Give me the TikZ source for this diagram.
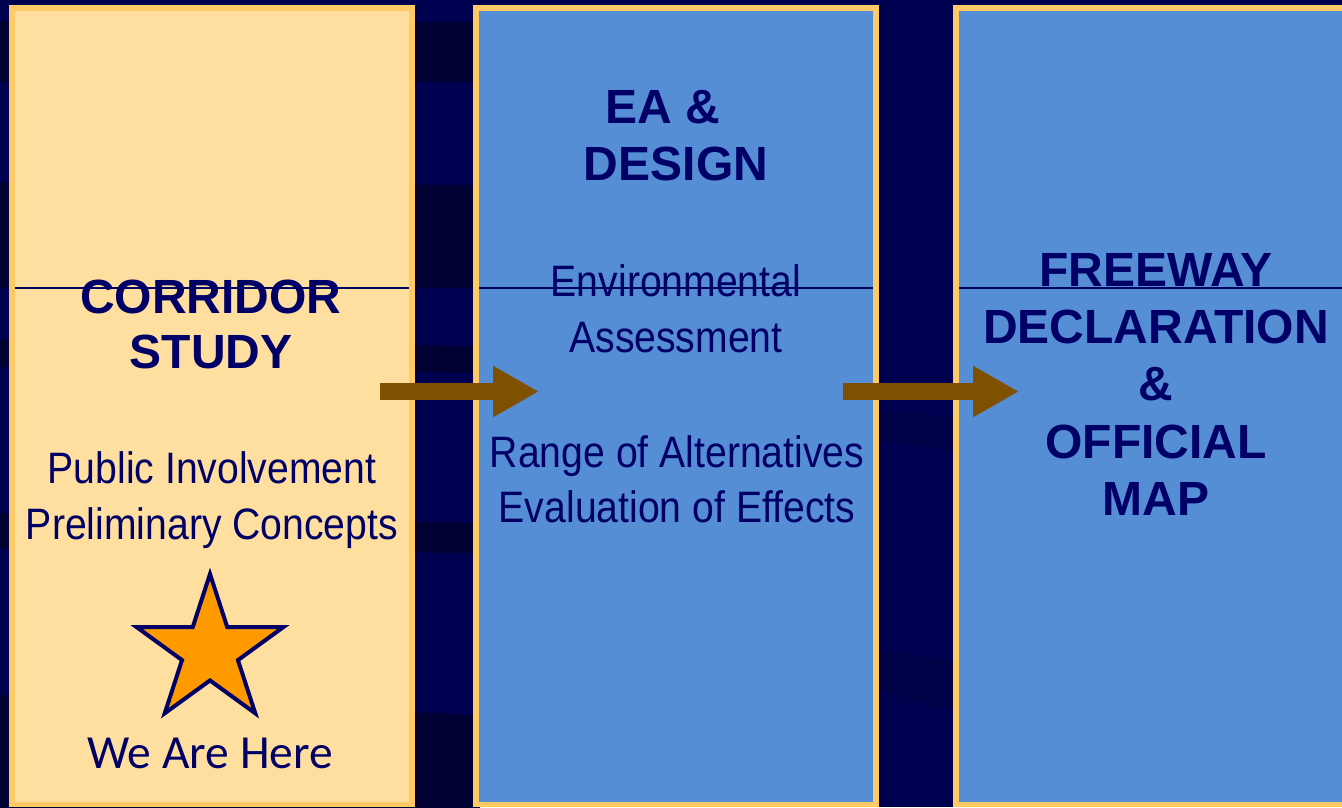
\documentclass[tikz,border=0pt]{standalone}
\usepackage{fontspec}
\setmainfont{Liberation Sans}
\newfontfamily\narrowfont[FakeStretch=0.89]{Liberation Sans}
\newfontfamily\calfont{Carlito}
\usetikzlibrary{shapes.geometric,arrows.meta}
\definecolor{bgnavy}{HTML}{000050}
\definecolor{bgband}{HTML}{000032}
\definecolor{bgfaint}{HTML}{000046}
\definecolor{paleyellow}{HTML}{FFDF9F}
\definecolor{paleblue}{HTML}{558ED5}
\definecolor{rim}{HTML}{FFC966}
\definecolor{ink}{HTML}{000066}
\definecolor{arrowbrown}{HTML}{7F5000}
\definecolor{starorange}{HTML}{FF9900}
\tikzset{
  panel/.style={rectangle, draw=rim, line width=5.5pt, minimum width=400pt,
    minimum height=796.5pt, inner sep=0pt},
  heading/.style={anchor=base, text=ink, inner sep=0pt,
    font=\fontsize{48}{57}\selectfont\bfseries},
  detail/.style={anchor=base, text=ink, inner sep=0pt,
    font=\fontsize{44}{56}\narrowfont},
  rule/.style={draw=ink, line width=1.2pt},
  flow/.style={draw=arrowbrown, line width=17pt,
    -{Triangle[length=46pt,width=48pt]}}
}
\begin{document}
\begin{tikzpicture}[x=1pt,y=-1pt]
    \useasboundingbox (0,0) rectangle (1342,807);
    \clip (0,0) rectangle (1342,807);
    % Background
    \fill[bgnavy] (0,0) rectangle (1342,807);
    \foreach \ta/\tb/\ba/\bb in {21/22/82/82, 182/185/288/288, 340/346/367/373,
        513/523/548/553, 695/715/820/820}
      \fill[bgband] (0,\ta) -- (480,\tb) -- (480,\bb) -- (0,\ba) -- cycle;
    \fill[bgfaint] (875,410) -- (960,418) -- (960,452) -- (875,440) -- cycle;
    \fill[bgfaint] (875,650) -- (960,662) -- (960,712) -- (875,690) -- cycle;
    % Panels
    \node[panel, fill=paleyellow] (corridor) at (212,406.25) {};
    \node[panel, fill=paleblue] (design) at (676,406.25) {};
    \node[panel, fill=paleblue] (freeway) at (1156,406.25) {};
    \foreach \l/\r in {15/409, 479/873, 959/1342}
      \draw[rule] (\l,288) -- (\r,288);
    % Corridor study
    \node[heading] (cor1) at (211,313) {CORRIDOR};
    \node[heading] (cor2) at (211,368) {STUDY};
    \node[detail] (cor3) at (212,483) {Public Involvement};
    \node[detail] (cor4) at (212,539) {Preliminary Concepts};
    \node[star, star points=5, star point ratio=2.618, minimum size=154pt,
      inner sep=0pt, draw=ink, fill=starorange, line width=4pt] (here) at (210,651) {};
    \node[anchor=base, text=ink, inner sep=0pt,
      font=\fontsize{47.5}{56}\calfont] (herelabel) at (210,768) {We Are Here};
    % EA and design
    \node[heading] (ea1) at (663,123) {EA \&};
    \node[heading] (ea2) at (676,180) {DESIGN};
    \node[detail] (ea3) at (676,296) {Environmental};
    \node[detail] (ea4) at (676,352) {Assessment};
    \node[detail] (ea5) at (677,467) {Range of Alternatives};
    \node[detail] (ea6) at (677,522) {Evaluation of Effects};
    % Freeway declaration
    \node[heading] (fw1) at (1156,286) {FREEWAY};
    \node[heading] (fw2) at (1156,343) {DECLARATION};
    \node[heading] (fw3) at (1156,400) {\&};
    \node[heading] (fw4) at (1156,458) {OFFICIAL};
    \node[heading] (fw5) at (1156,515) {MAP};
    % Arrows
    \coordinate (go1) at (380,391.5);
    \coordinate (to1) at (539,391.5);
    \coordinate (go2) at (843,391.5);
    \coordinate (to2) at (1019,391.5);
    \draw[flow] (go1) -- (to1);
    \draw[flow] (go2) -- (to2);
  \end{tikzpicture}
\end{document}
